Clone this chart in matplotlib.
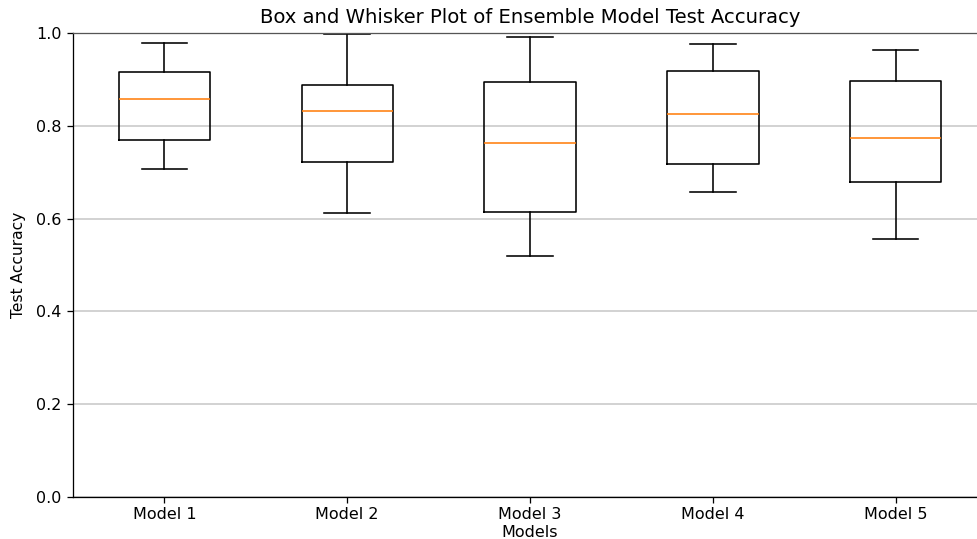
import matplotlib
matplotlib.use("Agg")
import matplotlib.pyplot as plt

# values
models = ['Model 1', 'Model 2', 'Model 3', 'Model 4', 'Model 5']
whisker_low = [0.706, 0.612, 0.519, 0.657, 0.557]
q1 = [0.770, 0.721, 0.614, 0.717, 0.678]
median = [0.857, 0.831, 0.764, 0.826, 0.773]
q3 = [0.916, 0.889, 0.895, 0.918, 0.897]
whisker_high = [0.979, 0.997, 0.991, 0.976, 0.963]

stats = []
for i, name in enumerate(models):
    stats.append({
        'label': name,
        'whislo': whisker_low[i],
        'q1': q1[i],
        'med': median[i],
        'q3': q3[i],
        'whishi': whisker_high[i],
        'fliers': [],
    })

dpi = 115
fig = plt.figure(figsize=(977 / dpi, 539 / dpi), dpi=dpi)
# axes runs a little past the right edge, like the cropped original
ax = fig.add_axes([73 / 977, 1 - 497 / 539, 914 / 977, 464 / 539])

ax.bxp(stats, widths=0.5, showfliers=False)

ax.set_ylim(0, 1)
ax.set_title('Box and Whisker Plot of Ensemble Model Test Accuracy', fontsize=12.3, pad=6)
ax.set_xlabel('Models', labelpad=1.5)
ax.set_ylabel('Test Accuracy', fontsize=9.7, labelpad=6.5)
ax.tick_params(axis='x', pad=3)
ax.yaxis.grid(True, color='#c8c8c8', linewidth=1)
ax.set_axisbelow(True)
ax.spines['right'].set_visible(False)
ax.spines['top'].set_color('#555555')

fig.savefig('out.png', dpi=dpi)
